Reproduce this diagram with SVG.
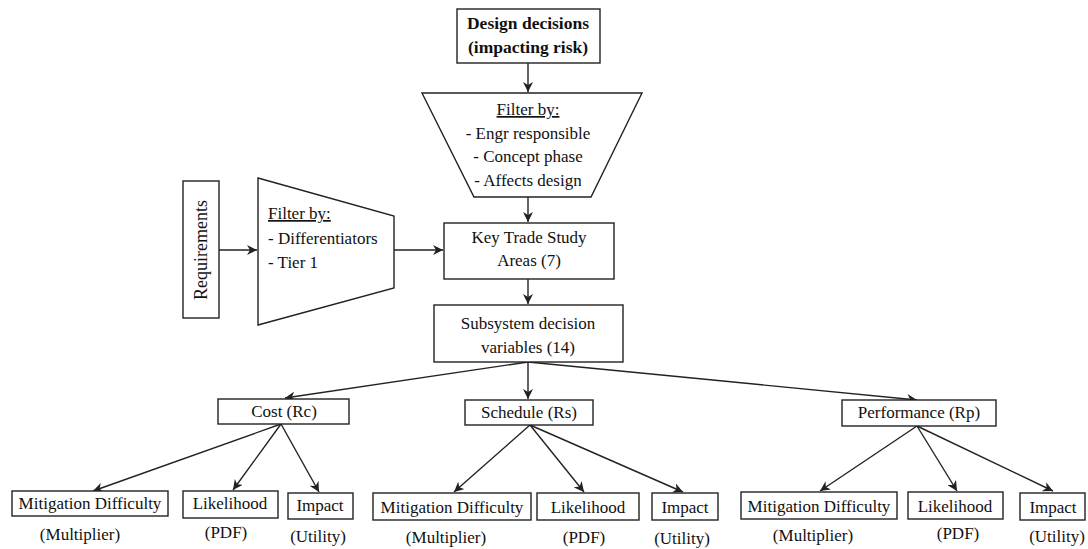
<svg xmlns="http://www.w3.org/2000/svg" width="1088" height="549" viewBox="0 0 1088 549">
<style>
.box{fill:#fff;stroke:#222;stroke-width:1.4}
.t{font-family:"Liberation Serif","Times New Roman",serif;font-size:17px;fill:#111}
.c{text-anchor:middle}
.b{font-weight:bold}
.u{text-decoration:underline}
.ln{stroke:#222;stroke-width:1.4;fill:none;marker-end:url(#ah)}
</style>
<defs>
<marker id="ah" viewBox="0 0 10 10" refX="10" refY="5" markerWidth="10" markerHeight="10" markerUnits="userSpaceOnUse" orient="auto">
<path d="M0,0 L10,5 L0,10 L3,5 z" fill="#222"/>
</marker>
</defs>
<rect width="1088" height="549" fill="#fff"/>
<g id="connectors">
<line class="ln" x1="528" y1="63" x2="528" y2="92"/>
<line class="ln" x1="528" y1="197" x2="528" y2="222"/>
<line class="ln" x1="219" y1="250" x2="257" y2="250"/>
<line class="ln" x1="394" y1="250" x2="443" y2="250"/>
<line class="ln" x1="528" y1="279" x2="528" y2="304"/>
<line class="ln" x1="528" y1="362" x2="285" y2="398"/>
<line class="ln" x1="528" y1="362" x2="528" y2="399"/>
<line class="ln" x1="528" y1="362" x2="917" y2="400"/>
<line class="ln" x1="281" y1="424" x2="93" y2="491"/>
<line class="ln" x1="281" y1="424" x2="233" y2="490"/>
<line class="ln" x1="281" y1="424" x2="319" y2="492"/>
<line class="ln" x1="530" y1="425" x2="454" y2="492"/>
<line class="ln" x1="530" y1="425" x2="584" y2="492"/>
<line class="ln" x1="530" y1="425" x2="683" y2="492"/>
<line class="ln" x1="917" y1="426" x2="820" y2="491"/>
<line class="ln" x1="917" y1="426" x2="957" y2="491"/>
<line class="ln" x1="917" y1="426" x2="1053" y2="491"/>
</g>
<g id="design">
<rect class="box" x="457" y="9" width="143" height="54"/>
<text class="t c b" x="528" y="29" style="font-size:17.5px">Design decisions</text>
<text class="t c b" x="528" y="53" style="font-size:17.5px">(impacting risk)</text>
</g>
<g id="filter1">
<polygon class="box" points="422,93 642,93 591,197 474,197"/>
<text class="t c u" x="528" y="115">Filter by:</text>
<text class="t c" x="528" y="139">- Engr responsible</text>
<text class="t c" x="528" y="162">- Concept phase</text>
<text class="t c" x="528" y="186">- Affects design</text>
</g>
<g id="requirements">
<rect class="box" x="183" y="181" width="36" height="137"/>
<text class="t c" x="0" y="0" transform="translate(207,250) rotate(-90)" style="font-size:18px">Requirements</text>
</g>
<g id="filter2">
<polygon class="box" points="258,178 394,216 394,288 258,325"/>
<text class="t u" x="268" y="219">Filter by:</text>
<text class="t" x="268" y="244">- Differentiators</text>
<text class="t" x="268" y="268">- Tier 1</text>
</g>
<g id="keytrade">
<rect class="box" x="444" y="223" width="170" height="56"/>
<text class="t c" x="529" y="243">Key Trade Study</text>
<text class="t c" x="529" y="266">Areas (7)</text>
</g>
<g id="subsystem">
<rect class="box" x="434" y="305" width="189" height="57"/>
<text class="t c" x="528" y="329">Subsystem decision</text>
<text class="t c" x="528" y="353">variables (14)</text>
</g>
<g id="cost">
<rect class="box" x="218" y="399" width="131" height="25"/>
<text class="t c" x="284" y="417">Cost (Rc)</text>
</g>
<g id="schedule">
<rect class="box" x="465" y="400" width="128" height="25"/>
<text class="t c" x="529" y="418">Schedule (Rs)</text>
</g>
<g id="performance">
<rect class="box" x="842" y="400" width="154" height="26"/>
<text class="t c" x="919" y="418">Performance (Rp)</text>
</g>
<g id="cost-mitigation">
<rect class="box" x="12" y="491" width="156" height="25"/>
<text class="t c" x="90" y="509">Mitigation Difficulty</text>
<text class="t c" x="80" y="540">(Multiplier)</text>
</g>
<g id="cost-likelihood">
<rect class="box" x="183" y="491" width="95" height="27"/>
<text class="t c" x="230" y="509">Likelihood</text>
<text class="t c" x="226" y="538">(PDF)</text>
</g>
<g id="cost-impact">
<rect class="box" x="288" y="493" width="65" height="26"/>
<text class="t c" x="320" y="511">Impact</text>
<text class="t c" x="318" y="542">(Utility)</text>
</g>
<g id="schedule-mitigation">
<rect class="box" x="373" y="493" width="158" height="27"/>
<text class="t c" x="452" y="513">Mitigation Difficulty</text>
<text class="t c" x="446" y="543">(Multiplier)</text>
</g>
<g id="schedule-likelihood">
<rect class="box" x="537" y="493" width="102" height="27"/>
<text class="t c" x="588" y="513">Likelihood</text>
<text class="t c" x="584" y="543">(PDF)</text>
</g>
<g id="schedule-impact">
<rect class="box" x="652" y="493" width="66" height="27"/>
<text class="t c" x="685" y="513">Impact</text>
<text class="t c" x="682" y="544">(Utility)</text>
</g>
<g id="perf-mitigation">
<rect class="box" x="741" y="492" width="156" height="27"/>
<text class="t c" x="819" y="512">Mitigation Difficulty</text>
<text class="t c" x="813" y="541">(Multiplier)</text>
</g>
<g id="perf-likelihood">
<rect class="box" x="908" y="492" width="95" height="27"/>
<text class="t c" x="955" y="512">Likelihood</text>
<text class="t c" x="958" y="539">(PDF)</text>
</g>
<g id="perf-impact">
<rect class="box" x="1020" y="493" width="65" height="27"/>
<text class="t c" x="1053" y="513">Impact</text>
<text class="t c" x="1057" y="542">(Utility)</text>
</g>
</svg>
